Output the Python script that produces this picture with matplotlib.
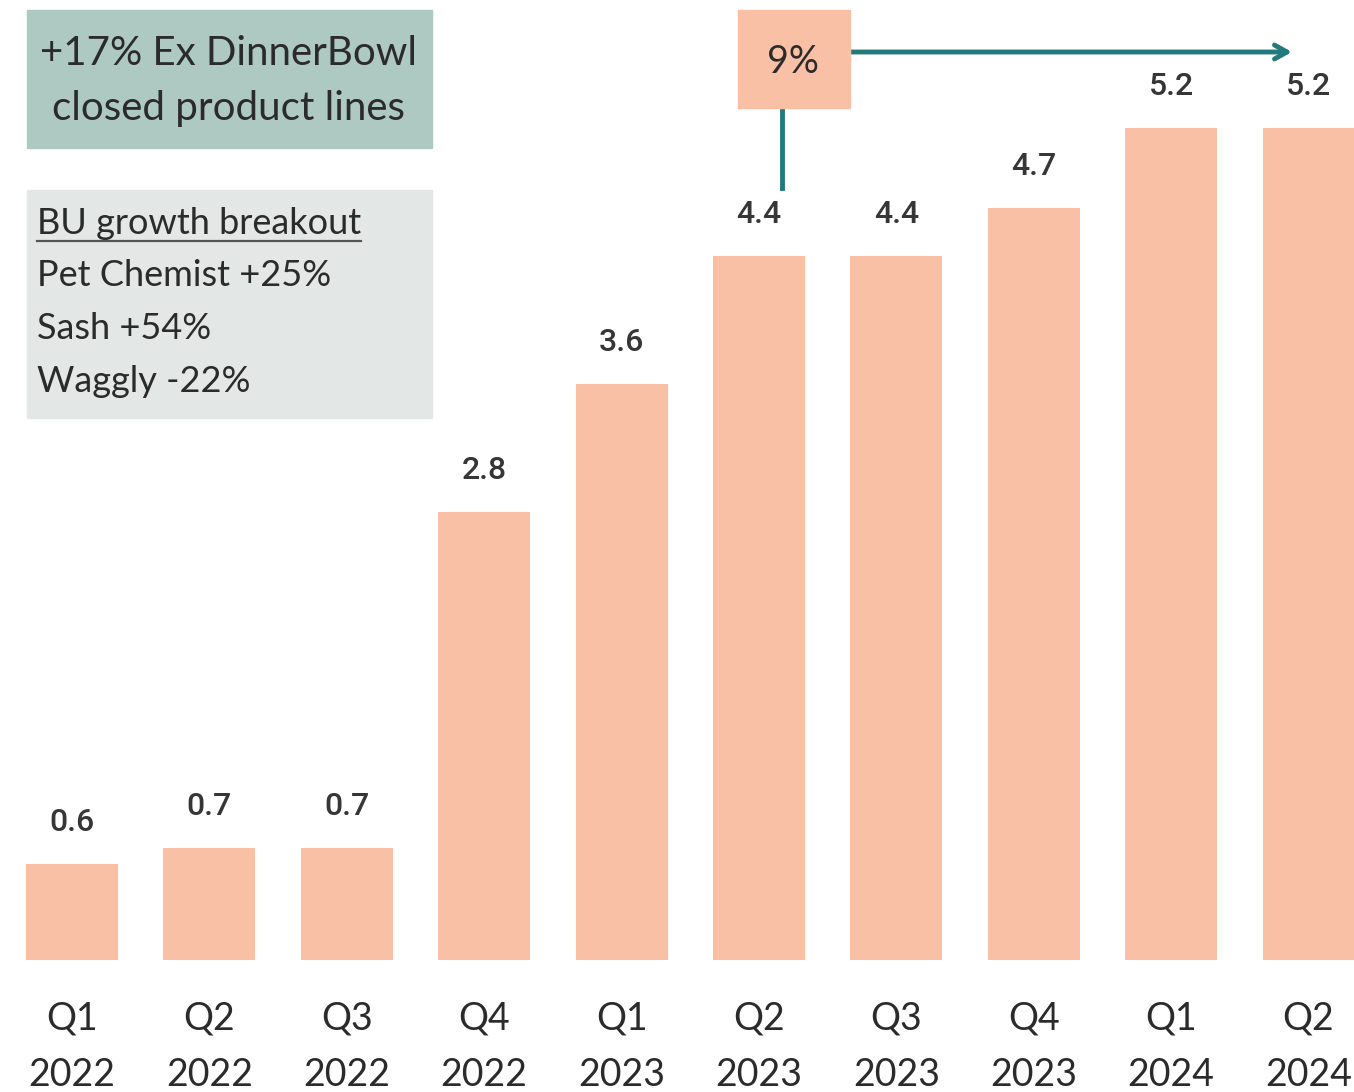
import matplotlib.pyplot as plt
from matplotlib.patches import Rectangle
from matplotlib.lines import Line2D

# quarterly values
quarters = ["Q1", "Q2", "Q3", "Q4", "Q1", "Q2", "Q3", "Q4", "Q1", "Q2"]
years = ["2022", "2022", "2022", "2022", "2023", "2023", "2023", "2023", "2024", "2024"]
values = [0.6, 0.7, 0.7, 2.8, 3.6, 4.4, 4.4, 4.7, 5.2, 5.2]

headline = "+17% Ex DinnerBowl\nclosed product lines"
breakout_title = "BU growth breakout"
breakout_lines = ["Pet Chemist +25%", "Sash +54%", "Waggly -22%"]
growth_label = "9%"

BAR = "#f9c0a6"
TEAL = "#237a7c"
TEXT = "#2b2b2b"
W, H = 1354, 1092

fig = plt.figure(figsize=(W / 100, H / 100), dpi=100)
fig.patch.set_facecolor("white")
ax = fig.add_axes([0, 132 / H, 1, 1 - 132 / H])

x = list(range(len(values)))
bars = ax.bar(x, values, width=0.67, color=BAR, linewidth=0)
ax.set_xlim(-72 / 137.4, (W - 72) / 137.4)
ax.set_ylim(0, 6.0)

for rect, v in zip(bars, values):
    ax.annotate(f"{v:.1f}", (rect.get_x() + rect.get_width() / 2, v),
                xytext=(0, 30), textcoords="offset points",
                ha="center", va="center", fontsize=23, color="#363636",
                family="Roboto", weight="medium")

ax.set_xticks(x)
ax.set_xticklabels([f"{q}\n{y}" for q, y in zip(quarters, years)],
                   family="Lato", fontsize=27, color=TEXT, linespacing=1.73)
ax.tick_params(axis="x", length=0, pad=29)
ax.set_yticks([])
for s in ax.spines.values():
    s.set_visible(False)


def fx(px):
    return px / W


def fy(py):
    return 1 - py / H


# headline box
fig.patches.append(Rectangle((fx(27), fy(148)), fx(405), 138 / H,
                             transform=fig.transFigure, color="#adc9c1", zorder=0))
fig.text(fx(229), fy(81), headline, ha="center", va="center", fontsize=29,
         family="Lato", color=TEXT, linespacing=1.6)

# business-unit breakout box
fig.patches.append(Rectangle((fx(27), fy(418)), fx(405), 228 / H,
                             transform=fig.transFigure, color="#e3e8e6", zorder=0))
title = fig.text(fx(37), fy(224), breakout_title, ha="left", va="center",
                 fontsize=26, family="Lato", color=TEXT)
for i, line in enumerate(breakout_lines):
    fig.text(fx(37), fy(276 + 52.5 * i), line, ha="left", va="center",
             fontsize=26, family="Lato", color=TEXT)

# underline the title across its rendered width
fig.canvas.draw()
bb = title.get_window_extent()
fig.lines.append(Line2D([bb.x0 / W, bb.x1 / W], [fy(241), fy(241)],
                        transform=fig.transFigure, color="#555555", lw=1.6))

# growth callout with connector and arrow
fig.lines.append(Line2D([fx(782), fx(782)], [fy(108), fy(188)],
                        transform=fig.transFigure, color=TEAL, lw=3.5))
fig.patches.append(Rectangle((fx(738), fy(108)), fx(112), 98 / H,
                             transform=fig.transFigure, color=BAR, zorder=2))
fig.text(fx(793), fy(62), growth_label, ha="center", va="center", fontsize=27,
         family="Lato", color=TEXT, zorder=3)
ax.annotate("", xy=(fx(1292), fy(52)), xytext=(fx(850), fy(52)),
            xycoords="figure fraction", textcoords="figure fraction",
            arrowprops=dict(arrowstyle="->,head_length=0.9,head_width=0.5",
                            color=TEAL, lw=3.5, shrinkA=0, shrinkB=0))

fig.savefig("out.png", dpi=100)
